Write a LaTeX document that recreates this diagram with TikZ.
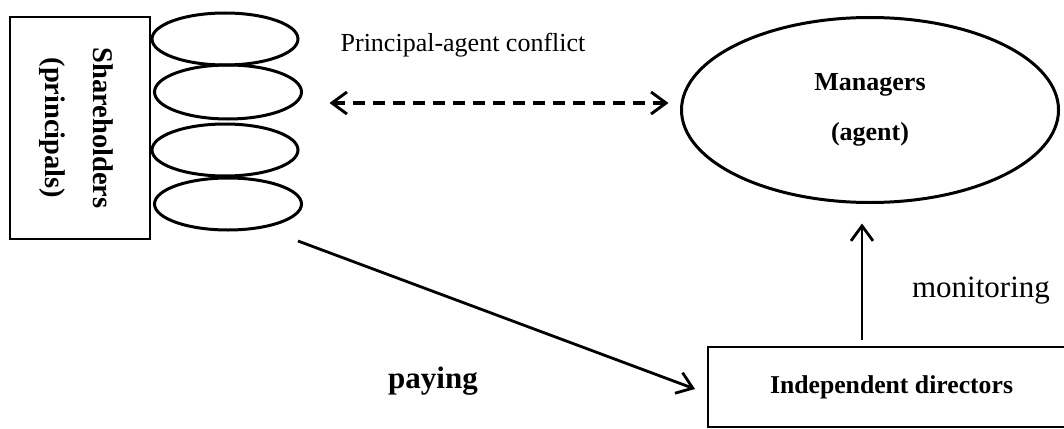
\documentclass[tikz,border=0pt]{standalone}
\usepackage{fontspec}
\setmainfont{Liberation Serif}
\usetikzlibrary{arrows.meta,shapes.geometric}
\begin{document}
\begin{tikzpicture}[x=1pt,y=-1pt,
  every node/.style={inner sep=0pt,outer sep=0pt},
  holder/.style={draw,ellipse,line width=3pt,minimum width=146pt,minimum height=52pt},
  actor/.style={draw,line width=2.2pt,align=center},
  flow/.style={line width=2.8pt,-{Straight Barb[length=15pt,width=22pt,line width=2.8pt]}},
  conflict/.style={line width=3.2pt,dash pattern=on 12pt off 8pt,
    {Straight Barb[length=15pt,width=22pt,line width=2.9pt]}-{Straight Barb[length=15pt,width=22pt,line width=2.9pt]}}
]
\useasboundingbox (0,0) rectangle (1064,428);
\clip (0,0) rectangle (1064,428);

% shareholders box with rotated label
\node[actor,minimum width=140pt,minimum height=222pt] (sh) at (80,128) {};
\node[rotate=-90,align=center,font=\fontsize{28.5}{48}\selectfont\bfseries] (shl) at (76,128)
  {Shareholders\\(principals)};

% stack of shareholder ellipses
\node[holder] (e1) at (225,39) {};
\node[holder,minimum width=147pt,minimum height=54pt] (e2) at (228,92) {};
\node[holder] (e3) at (225,150) {};
\node[holder,minimum width=147pt] (e4) at (228,204) {};

% managers
\node[draw,ellipse,line width=3pt,minimum width=377pt,minimum height=185pt,align=center,
  font=\fontsize{26}{50}\selectfont\bfseries] (mgr) at (870,110) {Managers\\(agent)};

% independent directors
\node[actor,minimum width=367pt,minimum height=80pt,
  font=\fontsize{25.7}{30}\selectfont\bfseries] (ind) at (891.5,387) {Independent directors};

% labels
\node[font=\fontsize{26}{30}\selectfont] (pac) at (463,45) {Principal-agent conflict};
\node[font=\fontsize{31}{36}\selectfont\bfseries] (pay) at (433,381) {paying};
\node[font=\fontsize{31}{36}\selectfont] (mon) at (981,291) {monitoring};

% connectors
\draw[conflict] ([xshift=28pt,yshift=-11pt]e2.east) -- ([xshift=-13pt,yshift=7pt]mgr.west);
\draw[flow] ([xshift=70pt,yshift=-37pt]e4.center) -- ([xshift=-13pt,yshift=-2pt]ind.west);
\draw[flow] ([xshift=-29.5pt,yshift=7pt]ind.north) -- ([xshift=-8pt,yshift=-21pt]mgr.south);
\end{tikzpicture}
\end{document}
